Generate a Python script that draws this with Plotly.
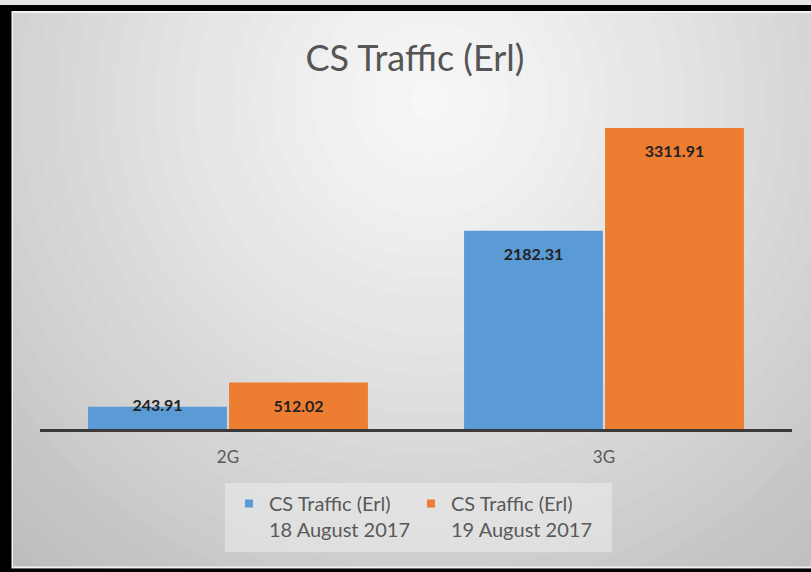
import plotly.graph_objects as go

# ---- data ----
categories = ["2G", "3G"]
series_names = ["CS Traffic (Erl)<br>18 August 2017", "CS Traffic (Erl)<br>19 August 2017"]
traffic_18aug = [243.91, 2182.31]
traffic_19aug = [512.02, 3311.91]
title_text = "CS Traffic (Erl)"

colors = ["#5B9BD5", "#ED7D31"]
FONT = "Lato, 'Open Sans', sans-serif"

W, H = 811, 572
L, R, T, B = 40, 19, 60, 143
PW, PH = W - L - R, H - T - B


def px(x):
    return (x - L) / PW


def py(y):
    return (H - B - y) / PH


fig = go.Figure()

series = [traffic_18aug, traffic_19aug]
for i, (vals, name) in enumerate(zip(series, series_names)):
    fig.add_trace(go.Bar(
        x=categories, y=vals, name=name, marker=dict(color=colors[i], line=dict(width=0)),
        offsetgroup=str(i), showlegend=False, hoverinfo="skip"))

for i, vals in enumerate(series):
    positions = ["bottom center" if v > 400 else "middle center" for v in vals]
    fig.add_trace(go.Scatter(
        x=categories, y=vals, mode="markers+text", offsetgroup=str(i),
        text=[f"{v:.2f}" for v in vals], textposition=positions,
        textfont=dict(family=FONT, size=16, color="#222222", weight="bold"),
        marker=dict(size=26, opacity=0), showlegend=False, hoverinfo="skip",
        cliponaxis=False))

# legend entries
for i, name in enumerate(series_names):
    fig.add_trace(go.Scatter(
        x=[None], y=[None], mode="markers", name=name,
        marker=dict(symbol="square", size=8, color=colors[i])))

shapes = []
# radial gradient background
cx, cy, rs = 430, 100, 560
N = 40
Rmax = 1.4
for k in range(N, 0, -1):
    r = Rmax * k / N
    rm = Rmax * (k - 0.5) / N
    c = int(round(247 - 52 * rm ** 1.2))
    shapes.append(dict(type="circle", xref="paper", yref="paper", layer="below",
                       x0=px(cx - r * rs), x1=px(cx + r * rs),
                       y0=py(cy + r * rs), y1=py(cy - r * rs),
                       fillcolor=f"rgb({c},{c},{c})", line=dict(width=0)))
# legend box
shapes.append(dict(type="rect", xref="paper", yref="paper", layer="below",
                   x0=px(225), x1=px(612), y0=py(552), y1=py(483),
                   fillcolor="rgba(245,245,245,0.45)", line=dict(width=0)))


# frame
def rect(x0, y0, x1, y1, col):
    shapes.append(dict(type="rect", xref="paper", yref="paper", layer="below",
                       x0=px(x0), x1=px(x1), y0=py(y1), y1=py(y0),
                       fillcolor=col, line=dict(width=0)))


rect(-5, -5, W + 5, 5, "#e6e6e6")
rect(11, 11, W + 5, 13, "#f2f2f2")
rect(11, 566.5, W + 5, 568.5, "#f2f2f2")
rect(11, 11, 13, 568.5, "#f2f2f2")
rect(-5, 5, W + 5, 11, "#000000")
rect(-5, 5, 11.5, H + 5, "#000000")
rect(-5, 568.5, W + 5, H + 5, "#000000")

fig.update_layout(
    width=W, height=H,
    margin=dict(l=L, r=R, t=T, b=B, pad=0),
    paper_bgcolor="#ffffff", plot_bgcolor="rgba(0,0,0,0)",
    title=dict(text=title_text, x=415 / W, xanchor="center", y=1 - 58 / H, yanchor="middle",
               font=dict(family=FONT, size=36, color="#555555")),
    barmode="group", bargap=0.25, bargroupgap=0.015,
    scattermode="group", scattergap=0.25,
    shapes=shapes,
    xaxis=dict(showline=True, linecolor="#3a3a3a", linewidth=2.5, showgrid=False,
               ticks="", ticklabelstandoff=11, zeroline=False,
               tickfont=dict(family=FONT, size=17, color="#595959")),
    yaxis=dict(visible=False, range=[0, PH / (301 / 3311.91)], showgrid=False, zeroline=False),
    legend=dict(orientation="h", x=px(229), xanchor="left", y=py(484), yanchor="top",
                bgcolor="rgba(0,0,0,0)", valign="top", entrywidth=137,
                font=dict(family=FONT, size=20, color="#595959"), itemclick=False),
    showlegend=True,
)

fig.write_html("out.html", config={"displayModeBar": False},
               post_script="document.body.style.margin='0px';")
